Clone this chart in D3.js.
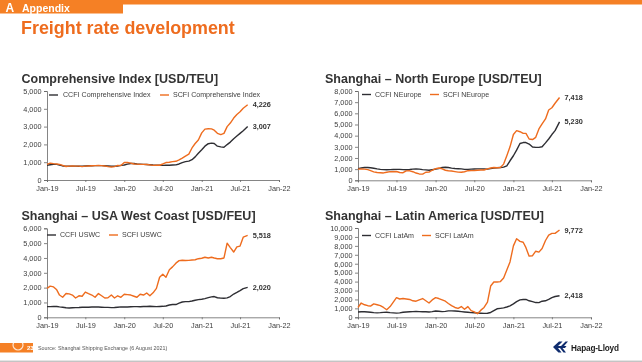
<!DOCTYPE html>
<html><head><meta charset="utf-8">
<script src="https://cdn.jsdelivr.net/npm/d3@7/dist/d3.min.js"></script>
<style>html,body{margin:0;padding:0;background:#fff}svg{display:block;font-family:"Liberation Sans",Arial,sans-serif;filter:blur(0.3px)}</style>
</head><body><div id="c"></div>
<script>
const xTickLabels = ["Jan-19","Jul-19","Jan-20","Jul-20","Jan-21","Jul-21","Jan-22"];
const compCCFI = [830,860,880,880,840,790,780,780,780,780,770,780,790,800,800,810,810,810,800,790,770,770,790,820,840,890,930,930,900,890,880,870,860,840,830,830,820,825,830,840,850,900,980,1030,1060,1140,1300,1500,1700,1900,2040,2070,2050,1900,1860,1840,1990,2130,2320,2470,2620,2770,3007];
const compSCFI = [880,950,920,900,880,820,760,780,790,780,780,750,780,790,800,810,820,810,790,750,730,750,820,810,980,990,950,900,890,880,880,870,850,820,830,830,900,980,1000,1030,1050,1130,1230,1340,1450,1800,2050,2250,2650,2860,2880,2870,2800,2620,2550,2620,3000,3200,3480,3680,3830,4030,4226];
const neCCFI = [1050,1100,1150,1150,1120,1080,1020,980,960,950,960,970,980,980,960,950,970,1000,1020,1000,960,930,900,950,1000,1050,1150,1170,1150,1090,1060,1040,1020,980,980,1000,1010,1020,1020,1010,1000,1050,1100,1120,1150,1180,1300,1750,2200,2700,3300,3380,3380,3250,2980,2950,2950,3000,3350,3700,4100,4450,5230];
const neSCFI = [1000,1020,1000,960,870,760,700,680,660,720,780,770,790,700,680,840,850,770,650,570,550,720,730,900,1050,1100,1030,900,850,830,780,730,720,770,860,870,880,900,920,920,1020,1100,1150,1130,1150,1450,2200,3000,4100,4450,4350,4200,4200,3700,3650,3850,4600,5050,5500,6300,6500,6900,7418];
const uswcCCFI = [720,720,730,730,700,680,640,630,640,650,660,680,680,680,690,700,690,680,670,670,650,660,680,700,690,690,710,720,720,710,730,730,740,730,720,730,740,760,830,860,860,950,1030,1060,1060,1100,1150,1190,1220,1260,1330,1380,1400,1320,1290,1280,1310,1400,1570,1680,1800,1930,2020];
const uswcSCFI = [1950,2100,2050,1850,1500,1350,1600,1580,1500,1300,1450,1420,1700,1600,1500,1350,1600,1450,1300,1320,1500,1300,1450,1350,1550,1530,1500,1420,1350,1550,1500,1640,1450,1650,1950,2700,2900,2700,3200,3400,3650,3820,3850,3830,3840,3860,3880,3950,3980,4050,4000,4050,4000,3950,3950,4000,5000,4700,4400,4750,4800,5400,5518];
const latamCCFI = [600,620,620,600,570,520,500,520,550,560,520,500,470,500,560,600,620,640,650,640,620,620,600,640,700,680,640,660,720,720,700,680,640,600,560,520,510,480,460,440,460,540,750,950,1000,1050,1150,1280,1500,1750,1950,2000,2000,1850,1750,1650,1640,1800,1850,2000,2200,2330,2418];
const latamSCFI = [1100,1600,1400,1300,1250,1500,1400,1300,1100,850,1200,1700,2200,2050,2100,2050,2000,1850,1800,1950,2100,1850,1600,1950,2200,2100,1950,1800,1550,1300,1100,1000,1200,900,1200,750,600,400,800,1100,1700,3500,3950,3950,4000,4400,5300,6200,8000,8800,8500,8400,7800,6850,6900,7400,7300,7700,8600,9200,9400,9400,9772];
const legendNames = [["CCFI Comprehensive Index","SCFI Comprehensive Index"],["CCFI NEurope","SCFI NEurope"],["CCFI USWC","SCFI USWC"],["CCFI LatAm","SCFI LatAm"]];
const panelTitles = ["Comprehensive Index [USD/TEU]","Shanghai \u2013 North Europe [USD/TEU]","Shanghai \u2013 USA West Coast [USD/FEU]","Shanghai \u2013 Latin America [USD/TEU]"];
const yMaxes = [5000,8000,6000,10000];

// sampling dates: 1st and 16th of each month, then the last reading on 6 Aug 2021
const dates = [];
for (let m = 0; m < 31; m++) { dates.push(new Date(2019, m, 1)); dates.push(new Date(2019, m, 16)); }
dates.push(new Date(2021, 7, 6));

const ORANGE = "#EE6C1E", DARK = "#2E2E33", TXT = "#404040";
const W = 642, H = 362;
const svg = d3.select("#c").append("svg").attr("width", W).attr("height", H);

// header
svg.append("rect").attr("width", W).attr("height", 4.5).attr("fill", "#F58025");
svg.append("rect").attr("width", 123).attr("height", 13.5).attr("fill", "#F58025");
svg.append("text").attr("x", 5.5).attr("y", 12).attr("fill", "#fff").attr("font-weight", 700).attr("font-size", 12).text("A");
svg.append("text").attr("x", 22).attr("y", 11.5).attr("fill", "#fff").attr("font-weight", 700).attr("font-size", 10.5).text("Appendix");
svg.append("text").attr("x", 21).attr("y", 34).attr("fill", ORANGE).attr("font-weight", 700).attr("font-size", 17.9).text("Freight rate development");

// panels
const layout = [
  {x0:47,  x1:279, yT:91,  yB:180,   tx:21.5, ty:82.5,  lg:[49,63,160,173],   ly:95},
  {x0:358, x1:591, yT:91,  yB:180.3, tx:325,  ty:82.5,  lg:[362,375,430,443], ly:94.5},
  {x0:47,  x1:279, yT:228.3,yB:317.3,tx:21.5, ty:219.5, lg:[47,60,109,122],   ly:235},
  {x0:358, x1:591, yT:228, yB:317.3, tx:325,  ty:219.5, lg:[362,375,422,435], ly:235.5}
];
const seriesPairs = [[compCCFI,compSCFI],[neCCFI,neSCFI],[uswcCCFI,uswcSCFI],[latamCCFI,latamSCFI]];

layout.forEach((p, i) => {
  const g = svg.append("g");
  const x = d3.scaleTime().domain([new Date(2019,0,1), new Date(2022,0,1)]).range([p.x0, p.x1]);
  const y = d3.scaleLinear().domain([0, yMaxes[i]]).range([p.yB, p.yT]);

  g.append("text").attr("x", p.tx).attr("y", p.ty).attr("font-size", 12.5).attr("font-weight", 700).attr("fill", "#333").text(panelTitles[i]);

  const yAxis = d3.axisLeft(y).tickValues(d3.range(0, yMaxes[i] + 1, 1000)).tickFormat(d3.format(",")).tickSize(3).tickPadding(2.5);
  const ya = g.append("g").attr("transform", `translate(${p.x0},0)`).call(yAxis);
  const xTicks = xTickLabels.map((_, k) => new Date(2019, k * 6, 1));
  const xAxis = d3.axisBottom(x).tickValues(xTicks).tickFormat((d, k) => xTickLabels[k]).tickSize(2).tickPadding(4);
  const xa = g.append("g").attr("transform", `translate(0,${p.yB})`).call(xAxis);
  [ya, xa].forEach(a => {
    a.selectAll("path,line").attr("stroke", "#666").attr("stroke-width", 0.8);
    a.selectAll("text").attr("font-size", 7.3).attr("fill", TXT).attr("font-family", '"Liberation Sans",Arial,sans-serif');
  });

  const line = d3.line().x((d, k) => x(dates[k])).y(d => y(d));
  [DARK, ORANGE].forEach((c, s) => {
    const vals = seriesPairs[i][s];
    g.append("path").attr("d", line(vals)).attr("fill", "none").attr("stroke", c).attr("stroke-width", 1.4).attr("stroke-linejoin", "round");
    const last = vals[vals.length - 1];
    g.append("text").attr("x", x(dates[dates.length - 1]) + 5).attr("y", y(last)).attr("dy", "0.35em")
      .attr("font-size", 7.3).attr("font-weight", 700).attr("fill", "#333").text(d3.format(",")(last));
    // legend
    g.append("line").attr("x1", p.lg[s * 2]).attr("x2", p.lg[s * 2] + 9).attr("y1", p.ly).attr("y2", p.ly).attr("stroke", c).attr("stroke-width", 1.4);
    g.append("text").attr("x", p.lg[s * 2 + 1]).attr("y", p.ly).attr("dy", "0.35em").attr("font-size", 7.1).attr("fill", TXT).text(legendNames[i][s]);
  });
});

// footer
svg.append("rect").attr("x", 0).attr("y", 343).attr("width", 33).attr("height", 9.5).attr("fill", "#F58025");
svg.append("text").attr("x", 27).attr("y", 350).attr("font-size", 6).attr("font-weight", 700).attr("fill", "#fff").text("23");
svg.append("circle").attr("cx", 18).attr("cy", 345).attr("r", 5).attr("fill", "none").attr("stroke", "#fff").attr("stroke-width", 1.2).attr("opacity", 0.8);
svg.append("text").attr("x", 38).attr("y", 349.5).attr("font-size", 5.35).attr("fill", "#555").text("Source: Shanghai Shipping Exchange (6 August 2021)");
svg.append("line").attr("x1", 0).attr("x2", W).attr("y1", 361.2).attr("y2", 361.2).attr("stroke", "#aaa").attr("stroke-width", 1);

// Hapag-Lloyd mark
const logo = svg.append("g").attr("fill", "#0F2C6E");
logo.append("path").attr("d", "M553 347L559 341.5H562.5L558 346H561L565.5 341.5H568L564 346H566.5L565 348H562.5L566 352.5H563.5L560 348H558L561.5 352.5H558.5Z");
svg.append("text").attr("x", 571).attr("y", 350.5).attr("font-size", 8.2).attr("font-weight", 700).attr("fill", "#1b1b1b").attr("textLength", 48).text("Hapag-Lloyd");
</script></body></html>
